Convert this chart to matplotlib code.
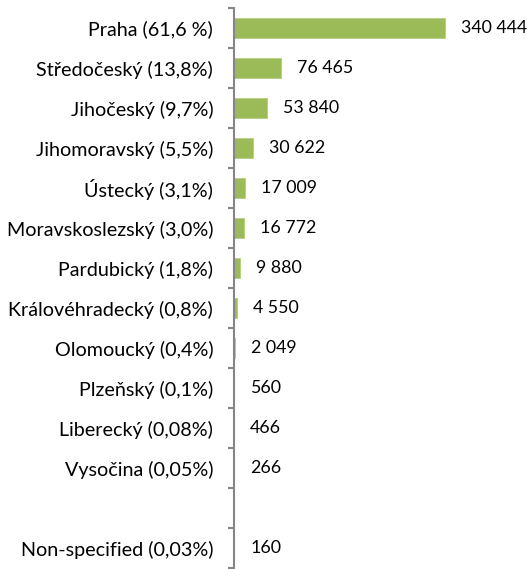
import numpy as np
import matplotlib
matplotlib.use("Agg")
import matplotlib.pyplot as plt

plt.rcParams['font.family'] = ['Lato', 'DejaVu Sans']

regions = ["Praha (61,6 %)", "Středočeský (13,8%)", "Jihočeský (9,7%)",
           "Jihomoravský (5,5%)", "Ústecký (3,1%)", "Moravskoslezský (3,0%)",
           "Pardubický (1,8%)", "Královéhradecký (0,8%)", "Olomoucký (0,4%)",
           "Plzeňský (0,1%)", "Liberecký (0,08%)", "Vysočina (0,05%)",
           "", "Non-specified (0,03%)"]
values = [340444, 76465, 53840, 30622, 17009, 16772, 9880, 4550, 2049,
          560, 466, 266, None, 160]

fig = plt.figure(figsize=(5.31, 5.69), dpi=100)
ax = fig.add_axes([234 / 531, 1 / 569, 1 - 234 / 531, 560 / 569])

pos = np.arange(len(regions))
for i, v in enumerate(values):
    if v is None:
        continue
    ax.barh(i, v, height=0.5, color='#9BBB59', edgecolor='#B5CD85', linewidth=0.6)
    lab = f"{v:,}".replace(",", " ")
    ax.annotate(lab, (v, i), xytext=(16, 0), textcoords='offset pixels',
                va='center', ha='left', fontsize=12.8, color='#000000')

ax.set_xlim(0, 479000)
ax.set_ylim(13.5, -0.5)
ax.set_yticks(pos)
ax.set_yticklabels(regions, fontsize=14.2)
ax.set_yticks(np.arange(-0.5, 13.6, 1), minor=True)
ax.tick_params(axis='y', which='major', length=0, pad=15)
ax.tick_params(axis='y', which='minor', length=4, width=1.5, color='#868686')
ax.set_xticks([])
for s in ['top', 'right', 'bottom']:
    ax.spines[s].set_visible(False)
ax.spines['left'].set_color('#868686')
ax.spines['left'].set_linewidth(1.5)

fig.savefig("out.png", dpi=100)
